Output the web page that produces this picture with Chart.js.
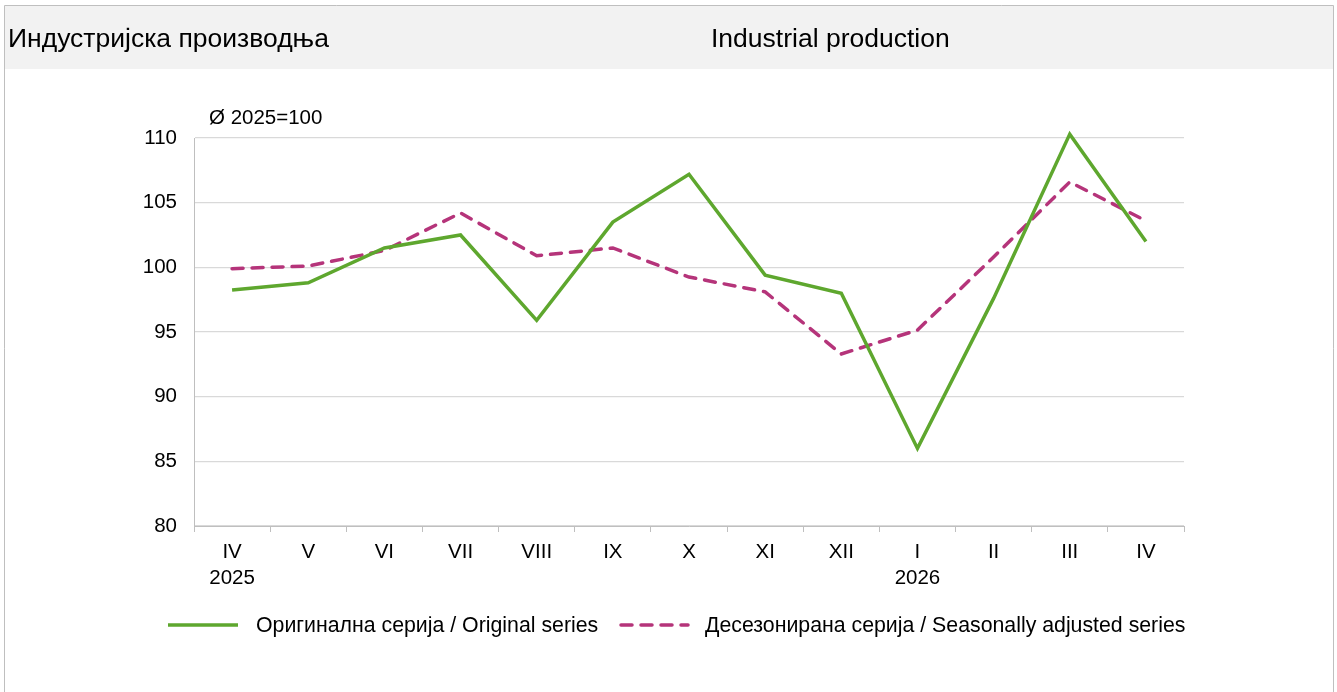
<!DOCTYPE html>
<html>
<head>
<meta charset="utf-8">
<script src="https://cdn.jsdelivr.net/npm/chart.js@4/dist/chart.umd.min.js"></script>
<style>
html,body{margin:0;padding:0;background:#fff;}
#wrap{position:absolute;left:0;top:0;width:1337px;height:692px;}
</style>
</head>
<body>
<div id="wrap"><canvas id="c" width="1337" height="692"></canvas></div>
<script>
const months = ["IV","V","VI","VII","VIII","IX","X","XI","XII","I","II","III","IV"];
const years = ["2025","","","","","","","","","2026","","",""];
const original = [98.25, 98.8, 101.5, 102.5, 95.9, 103.5, 107.2, 99.4, 98.0, 86.0, 97.6, 110.3, 102.0];
const adjusted = [99.9, 100.1, 101.3, 104.2, 100.9, 101.5, 99.25, 98.1, 93.3, 95.15, 100.8, 106.6, 103.6];
const yTicks = [80, 85, 90, 95, 100, 105, 110];
const titleLeft = "Индустријска производња";
const titleRight = "Industrial production";
const unitLabel = "Ø 2025=100";
const seriesNames = ["Оригинална серија / Original series", "Десезонирана серија / Seasonally adjusted series"];

const GREEN = "#5ea72e";
const MAGENTA = "#b5347a";
const FONT = "'Liberation Sans', Arial, sans-serif";

const labels = months.map((m, i) => years[i] ? [m, years[i]] : [m]);

const framePlugin = {
  id: 'frame',
  beforeDraw(chart) {
    const ctx = chart.ctx;
    ctx.save();
    ctx.fillStyle = '#fff';
    ctx.fillRect(0, 0, 1337, 692);
    ctx.fillStyle = '#f2f2f2';
    ctx.fillRect(5, 6, 1328, 63);
    ctx.strokeStyle = '#bfbfbf';
    ctx.lineWidth = 1;
    ctx.beginPath();
    ctx.moveTo(4.5, 692); ctx.lineTo(4.5, 5.5); ctx.lineTo(1333.5, 5.5); ctx.lineTo(1333.5, 692);
    ctx.stroke();
    ctx.fillStyle = '#000';
    ctx.font = "26.5px " + FONT;
    ctx.textBaseline = 'middle';
    ctx.textAlign = 'left';
    ctx.fillText(titleLeft, 8, 40);
    ctx.fillText(titleRight, 711, 40);
    ctx.font = "20.5px " + FONT;
    ctx.fillText(unitLabel, 209, 118);
    ctx.restore();
  },
  afterDraw(chart) {
    const ctx = chart.ctx;
    ctx.save();
    const y = 625;
    const ds = chart.data.datasets;
    const items = [{x1: 168, x2: 238, tx: 256}, {x1: 618, x2: 688, tx: 705}];
    items.forEach((it, i) => {
      ctx.strokeStyle = ds[i].borderColor;
      ctx.lineWidth = ds[i].borderWidth;
      ctx.lineCap = i === 1 ? 'round' : 'butt';
      ctx.setLineDash(ds[i].borderDash || []);
      ctx.beginPath();
      ctx.moveTo(it.x1 + (i === 1 ? 3 : 0), y); ctx.lineTo(it.x2, y);
      ctx.stroke();
      ctx.setLineDash([]);
      ctx.fillStyle = '#000';
      ctx.font = "21.3px " + FONT;
      ctx.textBaseline = 'middle';
      ctx.fillText(seriesNames[i], it.tx, y + 1);
    });
    ctx.restore();
  }
};

new Chart(document.getElementById('c'), {
  type: 'line',
  data: {
    labels: labels,
    datasets: [
      {label: seriesNames[0], data: original, borderColor: GREEN, backgroundColor: GREEN, borderWidth: 3.5, pointRadius: 0, tension: 0, fill: false, clip: 10},
      {label: seriesNames[1], data: adjusted, borderColor: MAGENTA, backgroundColor: MAGENTA, borderWidth: 3.5, borderDash: [11, 9], borderCapStyle: 'round', pointRadius: 0, tension: 0, fill: false, clip: 10}
    ]
  },
  options: {
    responsive: false,
    animation: false,
    events: [],
    layout: {padding: {left: 0, right: 153, top: 138, bottom: 86}},
    plugins: {legend: {display: false}, tooltip: {enabled: false}, title: {display: false}},
    scales: {
      x: {
        offset: true,
        grid: {offset: true, drawOnChartArea: false, drawTicks: true, tickLength: 6, color: '#bfbfbf', tickColor: '#bfbfbf'},
        border: {color: '#bfbfbf', width: 1},
        ticks: {color: '#000', font: {family: FONT, size: 20.5, lineHeight: 1.25}, padding: 8, maxRotation: 0, autoSkip: false},
        afterFit(scale) { scale.height = 80; }
      },
      y: {
        min: 80, max: 110,
        afterBuildTicks(scale) { scale.ticks = yTicks.map(v => ({value: v})); },
        grid: {color: '#d9d9d9', lineWidth: 1.3, drawTicks: false},
        border: {color: '#bfbfbf', width: 1},
        ticks: {color: '#000', font: {family: FONT, size: 20.5}, padding: 17},
        afterFit(scale) { scale.width = 194; }
      }
    }
  },
  plugins: [framePlugin]
});
</script>
</body>
</html>
